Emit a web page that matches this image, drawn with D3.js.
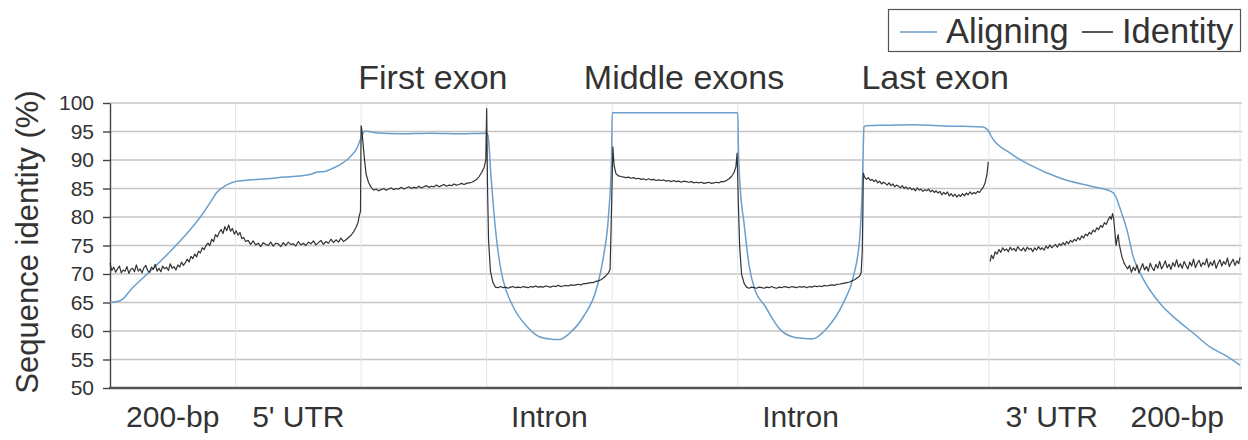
<!DOCTYPE html>
<meta charset="utf-8">
<style>
body { margin: 0; background: #fff; }
text { font-family: "Liberation Sans", Arial, sans-serif; fill: #333; }
.grid line { stroke: #c4c4c4; stroke-width: 1.4px; }
.vgrid line { stroke: #dfe5ec; stroke-width: 1px; }
.yaxis path, .yaxis line { stroke: #444; stroke-width: 1.4px; }
.yaxis text { font-size: 21px; fill: #333; }
.line { fill: none; stroke-linejoin: round; }
</style>
<svg width="1248" height="440"></svg>
<script src="https://d3js.org/d3.v7.min.js"></script>
<script>
// positions: each gene-model region spans 100 units (0..900 overall)
var regionLabels = ["200-bp", "5' UTR", "", "Intron", "", "Intron", "", "3' UTR", "200-bp"];
var exonLabels = [{region: 2, text: "First exon"}, {region: 4, text: "Middle exons"}, {region: 6, text: "Last exon"}];
var yTicks = [50, 55, 60, 65, 70, 75, 80, 85, 90, 95, 100];

// Aligning fraction (blue)
var aligning = [
  [0, 65.0], [8, 65.3], [18, 67.6], [32, 70.5], [45, 73.3], [60, 76.8], [72, 80.0], [80, 82.6],
  [85, 84.3], [92, 85.5], [98, 86.1], [111, 86.5], [125, 86.7], [139, 87.0], [151, 87.2],
  [160, 87.5], [165, 87.9], [171, 88.0], [178, 88.6], [186, 89.6], [191, 90.5], [197, 92.2],
  [200.5, 94.2], [203, 95.1], [211, 94.8], [231, 94.6], [255, 94.7], [279, 94.6], [300, 94.7],
  [301, 94.4], [303.5, 87.0], [306.5, 79.0], [310, 72.5], [313, 69.0], [321, 64.3], [332, 60.8],
  [342, 59.0], [350, 58.6], [358, 58.5], [366, 59.6], [377, 62.5], [388, 67.8], [393, 73.0],
  [397, 80.1], [399.5, 90.6], [400, 98.3], [500, 98.3],
  [500.5, 92.0], [502, 85.0], [505, 78.9], [509, 71.5], [514, 67.0], [521, 64.6], [534, 60.2],
  [547, 58.8], [559, 58.6], [571, 60.5], [584, 64.9], [592, 69.5], [597, 76.0], [599.5, 87.7],
  [600.5, 95.8], [602, 96.0], [620, 96.1], [640, 96.2], [660, 96.0], [680, 95.9], [695, 95.8],
  [700, 95.0], [702, 94.1], [717, 91.2], [733, 89.1], [757, 86.8], [783, 85.3], [798, 84.4],
  [801, 83.6], [804, 81.8], [810, 77.7], [815, 73.0], [822, 69.5], [836, 64.9], [850, 61.9],
  [863, 59.6], [876, 57.2], [890, 55.5], [900, 54.0]
];

// Identity (dark), one array per region; null marks the gap at the 3' UTR start
var identityUp = [
  [0, 71.9], [1.5, 70.6], [3, 71.2], [4.5, 70.3], [6, 70.9], [7.5, 71.4], [9, 70.2], [10.5, 70.7],
  [12, 70.5], [13.5, 71.3], [15, 70.1], [16.5, 70.8], [18, 71.0], [19.5, 70.4], [21, 71.6],
  [22.5, 70.5], [24, 70.9], [25.5, 70.2], [27, 71.1], [28.5, 71.5], [30, 70.6], [31.5, 70.3],
  [33, 71.2], [34.5, 70.8], [36, 71.7], [37.5, 70.5], [39, 71.0], [40.5, 70.4], [42, 71.4],
  [43.5, 70.9], [45, 71.2], [46.5, 70.6], [48, 71.8], [49.5, 71.0], [51, 71.3], [52.5, 70.7],
  [54, 71.6], [55.5, 71.2], [57, 72.1], [58.5, 71.5], [60, 72.0], [61.5, 72.6], [63, 72.1],
  [64.5, 73.1], [66, 72.7], [67.5, 73.5], [69, 73.0], [70.5, 74.0], [72, 73.7], [73.5, 74.6],
  [75, 74.3], [76.5, 75.0], [78, 75.4], [79.5, 75.0], [81, 76.1], [82.5, 75.7], [84, 76.9],
  [85.5, 76.5], [87, 77.3], [88.5, 77.8], [90, 77.1], [91.5, 78.3], [93, 77.6], [94.5, 78.6],
  [96, 77.5], [97.5, 78.0], [99, 77.0]
];
var identity5UTR = [
  [100.5, 77.6], [102, 76.8], [103.5, 77.3], [105, 76.2], [106.5, 76.4], [108, 75.7], [110, 75.9],
  [112, 75.2], [114, 75.8], [116, 75.1], [118, 75.4], [120, 74.8], [122, 75.5], [124, 75.2],
  [126, 75.0], [128, 75.6], [130, 74.9], [132, 75.4], [134, 75.3], [136, 74.8], [138, 75.5],
  [140, 75.0], [142, 75.6], [144, 75.2], [146, 75.3], [148, 74.9], [150, 75.7], [152, 75.1],
  [154, 75.4], [156, 75.0], [158, 75.6], [160, 75.3], [162, 75.8], [164, 75.1], [166, 75.5],
  [168, 75.9], [170, 75.2], [172, 75.7], [174, 75.4], [176, 76.1], [178, 75.5], [180, 76.0],
  [182, 75.6], [184, 76.3], [186, 75.7], [188, 76.0], [190, 76.4], [192, 76.8], [194, 77.4],
  [196, 78.2], [197.5, 79.0], [198.5, 80.2], [199.5, 81.0]
];
var identityFirstExon = [
  [200, 96.0], [200.5, 95.5], [201.5, 93.0], [202.5, 90.5], [204, 87.5], [206, 86.0], [208, 85.2],
  [210, 84.7], [212, 84.9], [214, 84.6], [216, 84.8], [218, 85.0], [220, 84.7], [222, 84.9],
  [224, 85.1], [226, 84.8], [228, 85.0], [230, 84.9], [232, 85.2], [234, 84.9], [236, 85.1],
  [238, 85.3], [240, 85.0], [242, 85.2], [244, 85.1], [246, 85.4], [248, 85.1], [250, 85.3],
  [252, 85.5], [254, 85.2], [256, 85.4], [258, 85.3], [260, 85.6], [262, 85.3], [264, 85.5],
  [266, 85.7], [268, 85.4], [270, 85.6], [272, 85.5], [274, 85.8], [276, 85.6], [278, 85.7],
  [280, 85.9], [282, 85.7], [284, 85.9], [286, 86.0], [288, 86.1], [290, 86.3], [292, 86.6],
  [294, 87.1], [296, 87.8], [298, 88.7], [299.3, 90.0]
];
var identityIntron1 = [
  [300, 99.0], [300.7, 85.0], [301.5, 76.0], [303, 70.5], [305, 68.5], [307, 67.7], [309, 67.6],
  [311, 67.8], [313, 67.6], [315, 67.7], [317, 67.5], [319, 67.7], [321, 67.8], [323, 67.6],
  [325, 67.7], [327, 67.6], [329, 67.8], [331, 67.7], [333, 67.6], [335, 67.8], [337, 67.7],
  [339, 67.9], [341, 67.7], [343, 67.8], [345, 67.7], [347, 67.9], [349, 67.8], [351, 67.7],
  [353, 67.9], [355, 67.8], [357, 68.0], [359, 67.8], [361, 67.9], [363, 68.0], [365, 67.9],
  [367, 68.1], [369, 68.0], [371, 68.1], [373, 68.2], [375, 68.1], [377, 68.3], [379, 68.3],
  [381, 68.4], [383, 68.5], [385, 68.5], [387, 68.7], [389, 68.8], [391, 69.0], [393, 69.3],
  [395, 69.7], [397, 70.2], [398.3, 70.8], [399.3, 80.0]
];
var identityMiddle = [
  [400.5, 92.3], [401.5, 89.0], [403, 87.6], [405, 87.2], [407, 87.1], [409, 87.0], [411, 86.9],
  [413, 87.0], [415, 86.8], [417, 86.9], [419, 86.7], [421, 86.8], [423, 86.6], [425, 86.7],
  [427, 86.5], [429, 86.7], [431, 86.5], [433, 86.6], [435, 86.4], [437, 86.5], [439, 86.4],
  [441, 86.5], [443, 86.3], [445, 86.4], [447, 86.2], [449, 86.4], [451, 86.2], [453, 86.3],
  [455, 86.1], [457, 86.3], [459, 86.2], [461, 86.1], [463, 86.2], [465, 86.0], [467, 86.1],
  [469, 86.0], [471, 86.1], [473, 85.9], [475, 86.0], [477, 86.1], [479, 85.9], [481, 86.0],
  [483, 86.1], [485, 86.0], [487, 86.2], [489, 86.2], [491, 86.4], [493, 86.7], [495, 87.1],
  [497, 87.8], [498.5, 88.8], [499.5, 91.2]
];
var identityIntron2 = [
  [500.5, 82.0], [501.5, 74.8], [503, 70.0], [505, 68.4], [507, 67.7], [509, 67.5], [511, 67.7],
  [513, 67.6], [515, 67.5], [517, 67.7], [519, 67.6], [521, 67.5], [523, 67.7], [525, 67.6],
  [527, 67.8], [529, 67.6], [531, 67.5], [533, 67.7], [535, 67.6], [537, 67.8], [539, 67.7],
  [541, 67.6], [543, 67.8], [545, 67.7], [547, 67.6], [549, 67.8], [551, 67.7], [553, 67.8],
  [555, 67.6], [557, 67.8], [559, 67.7], [561, 67.9], [563, 67.8], [565, 67.9], [567, 67.8],
  [569, 68.0], [571, 67.9], [573, 68.0], [575, 68.1], [577, 68.0], [579, 68.2], [581, 68.2],
  [583, 68.3], [585, 68.4], [587, 68.5], [589, 68.6], [591, 68.8], [593, 69.0], [595, 69.3],
  [597, 69.6], [598.3, 70.3], [599.2, 74.2]
];
var identityLastExon = [
  [600, 87.7], [601, 87.0], [602.5, 86.6], [604, 86.9], [605.5, 86.4], [607, 86.6], [608.5, 86.2],
  [610, 86.5], [611.5, 86.0], [613, 86.3], [614.5, 85.8], [616, 86.1], [617.5, 85.9], [619, 85.6],
  [620.5, 86.0], [622, 85.5], [623.5, 85.8], [625, 85.3], [626.5, 85.6], [628, 85.4], [629.5, 85.1],
  [631, 85.5], [632.5, 85.0], [634, 85.3], [635.5, 84.9], [637, 85.2], [638.5, 84.8], [640, 85.0],
  [641.5, 84.6], [643, 85.1], [644.5, 84.7], [646, 84.9], [647.5, 84.5], [649, 84.8], [650.5, 84.6],
  [652, 84.9], [653.5, 84.4], [655, 84.7], [656.5, 84.3], [658, 84.6], [659.5, 84.2], [661, 84.5],
  [662.5, 83.9], [664, 84.3], [665.5, 84.0], [667, 84.4], [668.5, 83.7], [670, 84.1], [671.5, 83.6],
  [673, 84.0], [674.5, 83.5], [676, 83.9], [677.5, 83.6], [679, 84.1], [680.5, 83.7], [682, 84.2],
  [683.5, 83.9], [685, 84.4], [686.5, 84.0], [688, 84.3], [689.5, 84.1], [691, 84.5], [692.5, 84.3],
  [694, 84.8], [695.5, 85.2], [697, 86.0], [698.5, 87.5], [699.5, 89.7], [700, null]
];
var identity3UTR = [
  [701, 72.2], [702, 73.3], [703.5, 72.7], [705, 73.9], [706.5, 73.5], [708, 74.3], [709.5, 73.8],
  [711, 74.6], [712.5, 74.1], [714, 74.4], [715.5, 73.9], [717, 74.7], [718.5, 74.2], [720, 74.5],
  [721.5, 74.0], [723, 74.8], [724.5, 74.3], [726, 74.1], [727.5, 74.6], [729, 74.0], [730.5, 74.7],
  [732, 74.3], [733.5, 74.5], [735, 73.9], [736.5, 74.6], [738, 74.2], [739.5, 74.8], [741, 74.3],
  [742.5, 74.6], [744, 74.2], [745.5, 74.9], [747, 74.5], [748.5, 75.1], [750, 74.6], [751.5, 74.9],
  [753, 75.2], [754.5, 74.7], [756, 75.3], [757.5, 75.0], [759, 75.5], [760.5, 75.1], [762, 75.7],
  [763.5, 75.3], [765, 75.9], [766.5, 75.6], [768, 76.1], [769.5, 75.8], [771, 76.4], [772.5, 76.0],
  [774, 76.7], [775.5, 76.3], [777, 77.0], [778.5, 76.7], [780, 77.3], [781.5, 77.0], [783, 77.7],
  [784.5, 77.4], [786, 78.1], [787.5, 77.8], [789, 78.5], [790.5, 78.2], [792, 79.0], [793.5, 78.7],
  [795, 79.5], [796.5, 80.1], [797.5, 79.6], [798.5, 80.6], [799.3, 79.9]
];
var identityDown = [
  [800.5, 77.0], [801.3, 75.0], [802.2, 76.2], [803, 76.9], [803.8, 75.3], [804.8, 74.2], [806, 73.0],
  [807.5, 72.0], [809, 71.4], [810.5, 70.9], [812, 71.5], [813.5, 70.3], [815, 71.2], [816.5, 70.6],
  [818, 71.6], [819.5, 70.2], [821, 71.0], [822.5, 71.8], [824, 70.7], [825.5, 71.3], [827, 70.5],
  [828.5, 71.9], [830, 71.1], [831.5, 70.6], [833, 71.7], [834.5, 71.0], [836, 72.2], [837.5, 70.9],
  [839, 71.5], [840.5, 72.3], [842, 71.1], [843.5, 71.7], [845, 70.8], [846.5, 72.0], [848, 71.3],
  [849.5, 72.5], [851, 71.2], [852.5, 71.8], [854, 71.0], [855.5, 72.2], [857, 71.5], [858.5, 70.9],
  [860, 72.1], [861.5, 71.4], [863, 72.6], [864.5, 71.1], [866, 71.9], [867.5, 72.4], [869, 71.3],
  [870.5, 72.0], [872, 71.6], [873.5, 72.7], [875, 71.2], [876.5, 72.1], [878, 71.5], [879.5, 72.4],
  [881, 71.0], [882.5, 71.9], [884, 72.5], [885.5, 71.4], [887, 72.2], [888.5, 71.7], [890, 72.8],
  [891.5, 71.3], [893, 72.0], [894.5, 72.6], [896, 71.5], [897.5, 72.3], [899, 71.8], [900, 72.9]
];

var identity = [].concat(identityUp, identity5UTR, identityFirstExon, identityIntron1,
  identityMiddle, identityIntron2, identityLastExon, identity3UTR, identityDown);

var svg = d3.select("svg");
var plotLeft = 110, plotRight = 1240, plotTop = 103, plotBottom = 388;

var x = d3.scaleLinear().domain([0, 900]).range([plotLeft, plotRight]);
var y = d3.scaleLinear().domain([50, 100]).range([plotBottom, plotTop]);

// horizontal grid
svg.append("g").attr("class", "grid")
  .selectAll("line").data(yTicks.filter(function(d) { return d > 50; }))
  .enter().append("line")
    .attr("x1", plotLeft).attr("x2", plotRight + 2)
    .attr("y1", function(d) { return y(d); })
    .attr("y2", function(d) { return y(d); });

// vertical region separators
svg.append("g").attr("class", "vgrid")
  .selectAll("line").data(d3.range(1, 10))
  .enter().append("line")
    .attr("x1", function(d) { return x(d * 100); })
    .attr("x2", function(d) { return x(d * 100); })
    .attr("y1", plotTop).attr("y2", plotBottom);

// y axis
var yAxis = d3.axisLeft(y).tickValues(yTicks).tickSize(7).tickPadding(9).tickSizeOuter(0);
svg.append("g").attr("class", "yaxis")
  .attr("transform", "translate(" + plotLeft + ",0)")
  .call(yAxis);
svg.select(".yaxis").attr("font-family", null).attr("font-size", null);

// bottom axis line
svg.append("line")
  .attr("x1", plotLeft - 1).attr("x2", plotRight + 2)
  .attr("y1", plotBottom).attr("y2", plotBottom)
  .attr("stroke", "#555").attr("stroke-width", 2.5);

// lines
var alignLine = d3.line()
  .curve(d3.curveMonotoneX)
  .x(function(d) { return x(d[0]); })
  .y(function(d) { return y(d[1]); });

var identLine = d3.line()
  .defined(function(d) { return d[1] != null; })
  .x(function(d) { return x(d[0]); })
  .y(function(d) { return y(d[1]); });

svg.append("path").datum(aligning)
  .attr("class", "line")
  .attr("stroke", "#6b9fcc").attr("stroke-width", 1.5)
  .attr("d", alignLine);

svg.append("path").datum(identity)
  .attr("class", "line")
  .attr("stroke", "#333").attr("stroke-width", 1.2)
  .attr("d", identLine);

// region labels under the axis
svg.append("g").selectAll("text")
  .data(regionLabels)
  .enter().append("text")
    .attr("x", function(d, i) { return x(i * 100 + 50); })
    .attr("y", 427)
    .attr("text-anchor", "middle")
    .style("font-size", "30px")
    .text(function(d) { return d; });

// exon labels above the plot
svg.append("g").selectAll("text")
  .data(exonLabels)
  .enter().append("text")
    .attr("x", function(d) { return x(d.region * 100 + 50) + 9; })
    .attr("y", 89)
    .attr("text-anchor", "middle")
    .style("font-size", "34px")
    .text(function(d) { return d.text; });

// y title
svg.append("text")
  .attr("transform", "translate(38,242) rotate(-90)")
  .attr("text-anchor", "middle")
  .style("font-size", "31px")
  .text("Sequence identity (%)");

// legend
var legend = svg.append("g");
legend.append("rect")
  .attr("x", 888.5).attr("y", 9.5).attr("width", 352).attr("height", 42)
  .attr("fill", "#fff").attr("stroke", "#555").attr("stroke-width", 1.2);
var legendItems = [
  {label: "Aligning", color: "#8fb3d6", x0: 900, x1: 937},
  {label: "Identity", color: "#555", x0: 1082, x1: 1113}
];
legendItems.forEach(function(d) {
  legend.append("line")
    .attr("x1", d.x0).attr("x2", d.x1).attr("y1", 32).attr("y2", 32)
    .attr("stroke", d.color).attr("stroke-width", 2);
  legend.append("text")
    .attr("x", d.x1 + 9).attr("y", 43)
    .style("font-size", "34.5px")
    .text(d.label);
});
</script>
